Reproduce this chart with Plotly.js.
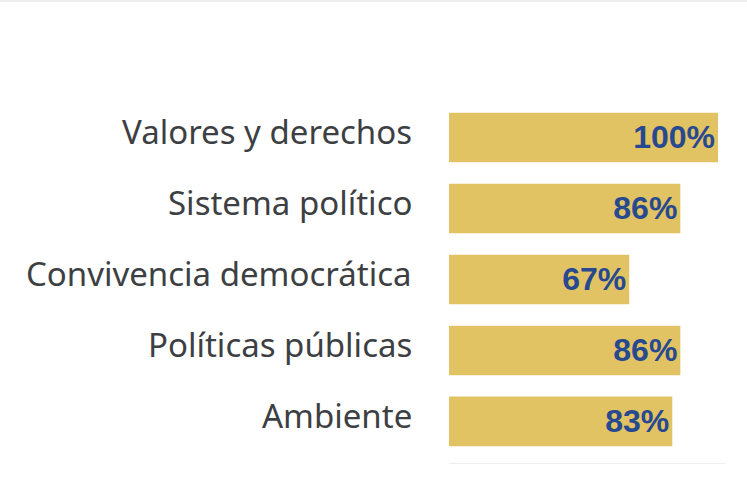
<!DOCTYPE html>
<html>
<head>
<meta charset="utf-8">
<script src="https://cdn.plot.ly/plotly-3.0.1.min.js"></script>
<style>
  html, body { margin: 0; padding: 0; background: #fff; }
  #chart { width: 747px; height: 491px; }
</style>
</head>
<body>
<div id="chart"></div>
<script>
// ── Data ──────────────────────────────────────────────────────────────────────
const categories = [
  'Valores y derechos',
  'Sistema político',
  'Convivencia democrática',
  'Políticas públicas',
  'Ambiente'
];
const values = [100, 86, 67, 86, 83];
const labels = values.map(v => v + '%');

// ── Trace ─────────────────────────────────────────────────────────────────────
const trace = {
  type: 'bar',
  orientation: 'h',
  x: values,
  y: categories,
  text: labels,
  textposition: 'inside',
  insidetextanchor: 'end',
  textangle: 0,
  constraintext: 'none',
  cliponaxis: false,
  textfont: { family: 'Liberation Sans, Arial, sans-serif', size: 32, color: '#27498f', weight: 'bold' },
  marker: { color: '#e2c364', line: { width: 0 } },
  hoverinfo: 'none'
};

// category labels as annotations so they can sit slightly above bar centre
const catLabels = categories.map(c => ({
  x: 0, xref: 'paper',
  y: c, yref: 'y',
  text: c,
  showarrow: false,
  xanchor: 'right',
  yanchor: 'middle',
  xshift: -35,
  yshift: 6,
  font: { family: 'Noto Sans, sans-serif', size: 33, color: '#3d4043' }
}));

// ── Layout ────────────────────────────────────────────────────────────────────
const layout = {
  width: 747,
  height: 491,
  paper_bgcolor: '#ffffff',
  plot_bgcolor: '#ffffff',
  margin: { l: 449, r: 22, t: 102, b: 28, pad: 0 },
  bargap: 0.3,
  showlegend: false,
  xaxis: {
    range: [0, 102.6],
    showgrid: false,
    zeroline: false,
    showticklabels: false,
    ticks: '',
    showline: true,
    linecolor: '#eeeeee',
    linewidth: 1
  },
  yaxis: {
    type: 'category',
    range: [4.585, -0.5],
    showgrid: false,
    zeroline: false,
    showline: false,
    ticks: '',
    showticklabels: false
  },
  annotations: catLabels,
  shapes: [{
    type: 'line',
    xref: 'paper', yref: 'paper',
    x0: -449 / 276, x1: (747 - 449) / 276,
    y0: 1 + 101 / 361, y1: 1 + 101 / 361,
    line: { color: '#eeeeee', width: 2 }
  }]
};

Plotly.newPlot('chart', [trace], layout, { displayModeBar: false, staticPlot: true });
</script>
</body>
</html>
